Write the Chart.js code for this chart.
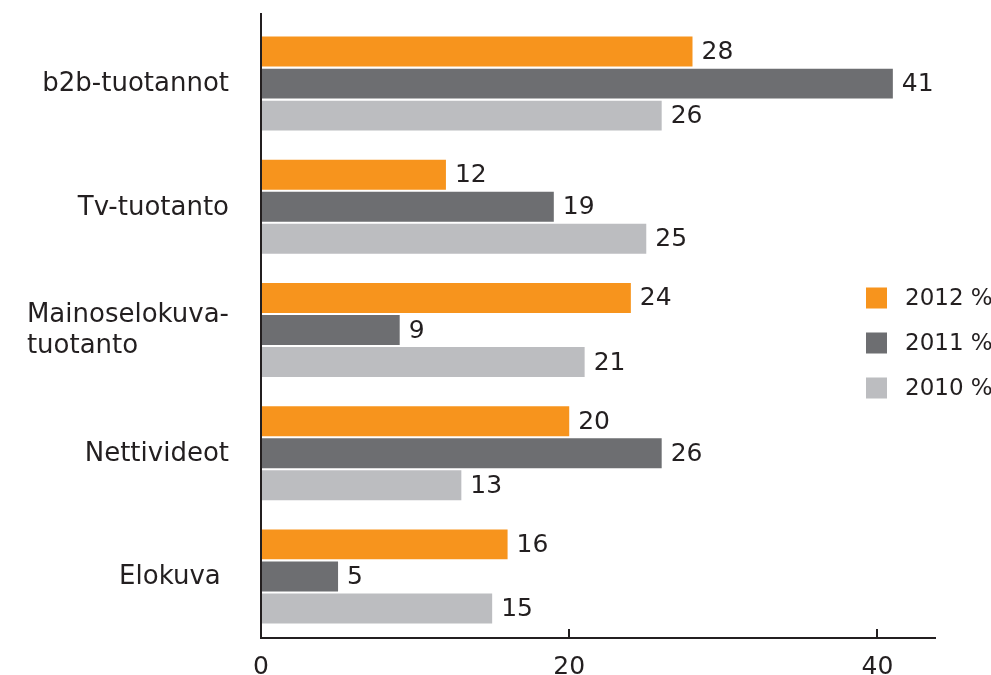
<!DOCTYPE html>
<html>
<head>
<meta charset="utf-8">
<script src="https://cdn.jsdelivr.net/npm/chart.js@4.4.1/dist/chart.umd.min.js"></script>
<style>
  html, body { margin: 0; padding: 0; background: #ffffff; }
  #wrap { width: 991px; height: 675px; position: relative; }
</style>
</head>
<body>
<div id="wrap"><canvas id="chart" width="991" height="675"></canvas></div>
<script>
// Categories (y axis), top to bottom; a nested array means a two-line label
const categories = [
  ['b2b-tuotannot'],
  ['Tv-tuotanto'],
  ['Mainoselokuva-', 'tuotanto'],
  ['Nettivideot'],
  ['Elokuva ']
];

// Series, percent
const seriesNames = ['2012 %', '2011 %', '2010 %'];
const values2012 = [28, 12, 24, 20, 16];
const values2011 = [41, 19, 9, 26, 5];
const values2010 = [26, 25, 21, 13, 15];

// X axis ticks
const xTicks = [0, 20, 40];

const colors = ['#f7941d', '#6d6e71', '#bcbdc0'];
const ink = '#231f20';
const FONT = '"DejaVu Sans", sans-serif';

// Axis lines, inward tick marks, category labels, bar values and legend
const decorations = {
  id: 'decorations',
  afterDraw(chart) {
    const ctx = chart.ctx;
    const area = chart.chartArea;
    const xs = chart.scales.x;
    const ys = chart.scales.y;
    ctx.save();

    // axis lines
    ctx.strokeStyle = ink;
    ctx.lineWidth = 2;
    ctx.beginPath();
    ctx.moveTo(area.left, area.top - 9);
    ctx.lineTo(area.left, area.bottom);
    ctx.lineTo(area.right, area.bottom);
    ctx.stroke();

    // tick marks pointing up into the plot
    ctx.beginPath();
    xTicks.forEach(v => {
      if (v === 0) return;
      const px = Math.round(xs.getPixelForValue(v));
      ctx.moveTo(px, area.bottom);
      ctx.lineTo(px, area.bottom - 9);
    });
    ctx.stroke();

    // category labels: block right-aligned to the axis, lines left-aligned
    ctx.fillStyle = ink;
    ctx.font = '26px ' + FONT;
    ctx.textBaseline = 'middle';
    ctx.textAlign = 'left';
    categories.forEach((lines, i) => {
      const cy = ys.getPixelForValue(i);
      const lh = 31;
      const maxW = Math.max(...lines.map(l => ctx.measureText(l).width));
      const x0 = area.left - 32 - maxW;
      lines.forEach((l, j) => {
        const y = cy + (j - (lines.length - 1) / 2) * lh;
        ctx.fillText(l, x0, y + 1);
      });
    });

    // values at bar ends
    ctx.font = '25px ' + FONT;
    chart.data.datasets.forEach((ds, di) => {
      const meta = chart.getDatasetMeta(di);
      meta.data.forEach((bar, i) => {
        ctx.fillText(String(ds.data[i]), bar.x + 9, bar.y + 1);
      });
    });

    // legend
    ctx.font = '23px ' + FONT;
    const lx = 866, ly0 = 298, step = 45;
    seriesNames.forEach((name, i) => {
      const y = ly0 + i * step;
      ctx.fillStyle = colors[i];
      ctx.fillRect(lx, y - 10.5, 21, 21);
      ctx.fillStyle = ink;
      ctx.fillText(name, lx + 39, y + 1);
    });

    ctx.restore();
  }
};

new Chart(document.getElementById('chart'), {
  type: 'bar',
  data: {
    labels: categories.map(c => c.join(' ')),
    datasets: [
      { label: seriesNames[0], data: values2012, backgroundColor: colors[0] },
      { label: seriesNames[1], data: values2011, backgroundColor: colors[1] },
      { label: seriesNames[2], data: values2010, backgroundColor: colors[2] }
    ]
  },
  options: {
    indexAxis: 'y',
    responsive: false,
    animation: false,
    devicePixelRatio: 1,
    categoryPercentage: 0.78,
    barPercentage: 0.935,
    layout: { padding: { left: 261, right: 55, top: 22, bottom: 0 } },
    plugins: {
      legend: { display: false },
      tooltip: { enabled: false }
    },
    scales: {
      x: {
        min: 0,
        max: 43.8,
        border: { display: false },
        grid: { display: false },
        afterBuildTicks(scale) { scale.ticks = xTicks.map(v => ({ value: v })); },
        afterFit(scale) { scale.height = 37; },
        ticks: {
          color: ink,
          padding: 9,
          maxRotation: 0,
          font: { family: FONT, size: 25, lineHeight: 1 }
        }
      },
      y: {
        border: { display: false },
        grid: { display: false },
        ticks: { display: false },
        afterFit(scale) { scale.width = 0; }
      }
    }
  },
  plugins: [decorations]
});
</script>
</body>
</html>
